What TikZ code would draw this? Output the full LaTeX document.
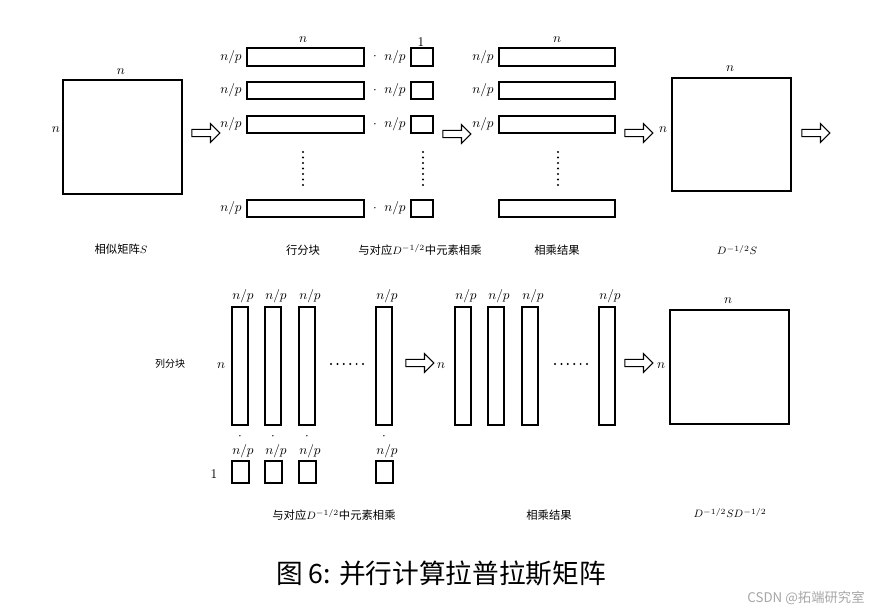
\documentclass[tikz,border=0pt]{standalone}
\usepackage{fontspec}
\usetikzlibrary{shapes.arrows}
\newfontfamily\cjk{Noto Sans CJK SC}
\begin{document}
\begin{tikzpicture}[x=0.75pt,y=-0.75pt,
  box/.style={draw,line width=1.1pt},
  lab/.style={font=\fontsize{10}{11}\selectfont,inner sep=0pt},
  captxt/.style={font=\cjk\fontsize{8.5}{10}\selectfont,inner sep=0pt},
  barrow/.style={single arrow,draw,line width=0.8pt,minimum width=14pt,single arrow head extend=3pt,minimum height=21pt,inner sep=1.5pt}]
\useasboundingbox (0,0) rectangle (883,613);
% top row
\draw[box] (63,80) rectangle (182,194);
\node[lab] (sn1) at (121,72) {$n$};
\node[lab] (sn2) at (56,130) {$n$};
\node[captxt] (c1) at (121,249) {相似矩阵$S$};
\node[barrow] (a1) at (204,133) {};
\foreach \y/\h [count=\i] in {48/66,82/99,116/133,200/217}{
  \draw[box] (247,\y) rectangle (364,\h);
  \node[lab] (rl\i) at (231,{(\y+\h)/2}) {$n/p$};
  \node[lab] (dt\i) at (375,{(\y+\h)/2}) {$\cdot$};
  \node[lab] (ml\i) at (395,{(\y+\h)/2}) {$n/p$};
  \draw[box] (411,\y) rectangle (433,\h);
  \draw[box] (499,\y) rectangle (615,\h);
}
\foreach \i/\y/\h in {1/48/66,2/82/99,3/116/133}{
  \node[lab] (ql\i) at (483,{(\y+\h)/2}) {$n/p$};
}
\node[lab] (tn1) at (303,40) {$n$};
\node[lab] (t1) at (421,42) {1};
\node[lab] (tn2) at (557,40) {$n$};
\foreach \x in {303,423,558}{
  \foreach \k in {0,...,6}{\fill (\x,{152+\k*5.5}) circle (1.1);}
}
\node[barrow] (a2) at (455,134) {};
\node[captxt] (c2) at (303,250) {行分块};
\node[captxt] (c3) at (420,250) {与对应$D^{-1/2}$中元素相乘};
\node[captxt] (c4) at (557,250) {相乘结果};
\node[barrow] (a3) at (637,133) {};
\draw[box] (672,78) rectangle (791,191);
\node[lab] (dn1) at (730,69) {$n$};
\node[lab] (dn2) at (663,130) {$n$};
\node[captxt] (c5) at (737,250) {$D^{-1/2}S$};
\node[barrow] (a4) at (814,133) {};
% bottom row
\node[captxt] (c6) at (170,364) {\fontsize{7.5}{9}\selectfont 列分块};
\node[lab] (bn1) at (221,366) {$n$};
\node[lab] (b1) at (214,474) {1};
\foreach \x [count=\i] in {232,265,299,376}{
  \draw[box] (\x,307) rectangle (\x+16,425);
  \node[lab] (cp\i) at (\x+11,296) {$n/p$};
  \node[lab] (cd\i) at (\x+8,437) {$\cdot$};
  \node[lab] (cq\i) at (\x+11,451) {$n/p$};
  \draw[box] (\x,461) rectangle (\x+17,483);
}
\foreach \k in {0,...,5}{\fill ({331+\k*6.4},364) circle (1.1);}
\coordinate (e1) at (347,364);
\node[barrow] (a5) at (418,363) {};
\node[lab] (bn2) at (441,366) {$n$};
\foreach \x [count=\i] in {455,488,522,599}{
  \draw[box] (\x,307) rectangle (\x+16,425);
  \node[lab] (rp\i) at (\x+11,296) {$n/p$};
}
\foreach \k in {0,...,5}{\fill ({555+\k*6.4},364) circle (1.1);}
\coordinate (e2) at (571,364);
\node[barrow] (a6) at (637,363) {};
\draw[box] (670,310) rectangle (789,424);
\node[lab] (fn1) at (728,301) {$n$};
\node[lab] (fn2) at (661,366) {$n$};
\node[captxt] (c7) at (334,515) {与对应$D^{-1/2}$中元素相乘};
\node[captxt] (c8) at (549,515) {相乘结果};
\node[captxt] (c9) at (730,513) {$D^{-1/2}SD^{-1/2}$};
\node[inner sep=0pt,font=\cjk\fontsize{20}{24}\selectfont] (title) at (441,573) {图 6: 并行计算拉普拉斯矩阵};
\node[inner sep=0pt,text=gray!70,font=\cjk\fontsize{10}{12}\selectfont] (wm) at (806,598) {CSDN @拓端研究室};
\end{tikzpicture}
\end{document}
